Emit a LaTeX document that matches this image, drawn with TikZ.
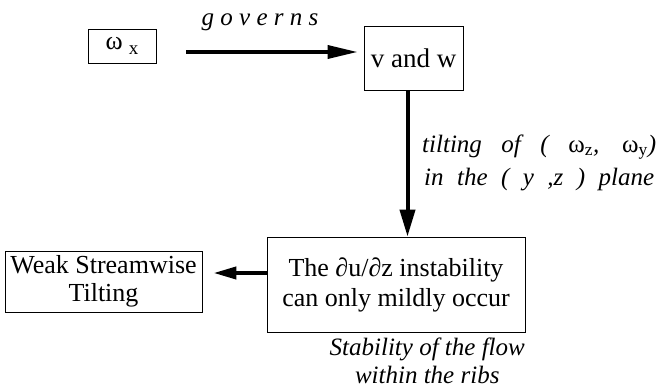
\documentclass[tikz,border=0pt]{standalone}
\usepackage{fontspec}
\setmainfont{Liberation Serif}
\usetikzlibrary{arrows.meta,calc}
\tikzset{
  box/.style={draw, line width=0.8pt, inner sep=0pt, align=center,
    font=\fontsize{26}{29}\selectfont},
  arrA/.style={line width=3.5pt, -{Triangle[length=30pt,width=13pt]}},
  arrB/.style={line width=4pt, -{Triangle[length=27pt,width=15pt]}},
  arrC/.style={line width=4pt, -{Triangle[length=23pt,width=12pt]}},
  lab/.style={font=\itshape\fontsize{25}{25}\selectfont, inner sep=0pt},
}
\begin{document}
\begin{tikzpicture}[x=1pt,y=-1pt]
\useasboundingbox (0,0) rectangle (658,391);
% boxes
\node[box, minimum width=68pt, minimum height=34pt] (wx) at (122,46)
  {\fontsize{26}{26}\selectfont ω\hspace{6pt}\raisebox{-5pt}{\fontsize{19}{19}\selectfont x}};
\node[box, minimum width=99pt, minimum height=64pt, font=\fontsize{27}{30}\selectfont] (vw) at (413.5,58) {v and w};
\node[box, minimum width=258pt, minimum height=95pt, font=\fontsize{26}{30}\selectfont] (big) at (396,284.5)
  {The ∂u/∂z instability\\can only mildly occur};
\node[box, minimum width=197pt, minimum height=61pt, font=\fontsize{26}{28}\selectfont] (weak) at (103.5,281.5)
  {Weak Streamwise\\Tilting};
% connectors
\draw[arrA] ($(wx.east)+(30,6)$) -- ($(vw.west)+(-6,-6)$);
\coordinate (a2) at ($(vw.south)+(-6,0)$);
\draw[arrB] (a2) -- (a2 |- big.north);
\coordinate (a3) at ($(big.west)+(0,-11.5)$);
\coordinate (b3) at ($(weak.east)+(11,0)$);
\draw[arrC] (a3) -- (b3 |- a3);
% labels
\node[lab, anchor=base] (gov) at (260,25) {\addfontfeatures{LetterSpace=25}governs};
\node[lab, anchor=base west] (t1) at (422,152)
  {\makebox[234pt][s]{tilting of ( {\upshape ω\textsubscript{z}}, {\upshape ω\textsubscript{y}})}};
\node[lab, anchor=base west] (t2) at (424,185)
  {\makebox[230pt][s]{in the ( y ,z ) plane}};
\node[lab, anchor=base east] (s1) at (525,355) {Stability of the flow};
\node[lab, anchor=base] (s2) at ($(s1.base)+(0,28)$) {within the ribs};
\end{tikzpicture}
\end{document}
